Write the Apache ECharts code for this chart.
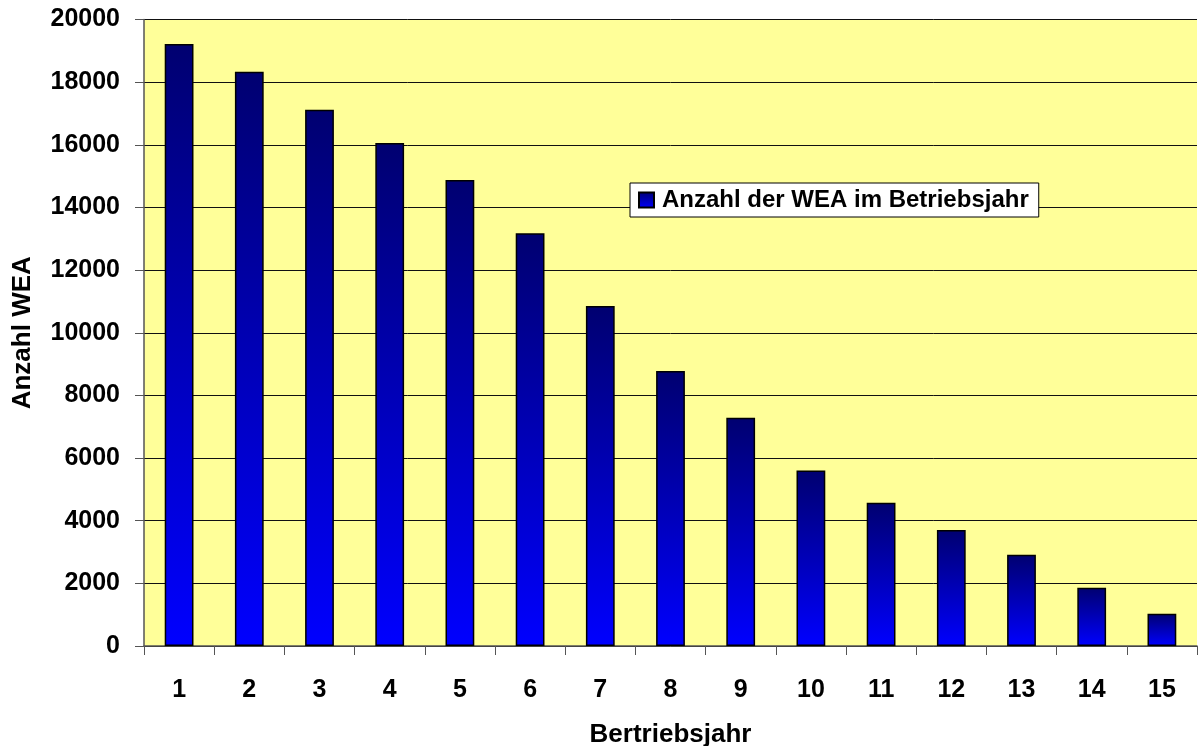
<!DOCTYPE html>
<html>
<head>
<meta charset="utf-8">
<script src="https://cdn.jsdelivr.net/npm/echarts@6/dist/echarts.min.js"></script>
<style>
  html, body { margin: 0; padding: 0; background: #fff; }
  #chart { width: 1204px; height: 746px; }
</style>
</head>
<body>
<div id="chart"></div>
<script>
// Betriebsjahre (x-Achse)
const years = ["1", "2", "3", "4", "5", "6", "7", "8", "9", "10", "11", "12", "13", "14", "15"];
// Anzahl WEA im jeweiligen Betriebsjahr
const counts = [19220, 18330, 17120, 16060, 14880, 13180, 10850, 8780, 7290, 5600, 4570, 3700, 2910, 1860, 1030];

const seriesName = "Anzahl der WEA im Betriebsjahr";
const labelFont = { fontFamily: "Liberation Sans, Arial, sans-serif", fontWeight: "bold", color: "#000" };

const chart = echarts.init(document.getElementById("chart"));

const barGradient = new echarts.graphic.LinearGradient(0, 0, 0, 1, [
  { offset: 0, color: "#000070" },
  { offset: 1, color: "#0000FF" },
]);

chart.setOption({
  animation: false,
  grid: {
    left: 144,
    right: 7,
    top: 19.5,
    bottom: 100,
    outerBoundsMode: "none",
    show: true,
    backgroundColor: "#FFFF99",
    borderWidth: 0,
  },
  legend: {
    data: [seriesName],
    left: 630,
    top: 183,
    backgroundColor: "#fff",
    borderColor: "#000",
    borderWidth: 1,
    borderRadius: 0,
    padding: [5, 10, 5, 8],
    itemWidth: 15,
    itemHeight: 15,
    icon: "rect",
    textStyle: { ...labelFont, fontSize: 24, padding: [0, 0, 0, 3] },
  },
  xAxis: {
    type: "category",
    data: years,
    name: "Bertriebsjahr",
    nameLocation: "middle",
    nameGap: 76,
    nameTextStyle: { ...labelFont, fontSize: 26 },
    axisLine: { lineStyle: { color: "#555", width: 1.5 } },
    axisTick: { show: true, length: 9, lineStyle: { color: "#555" } },
    axisLabel: { ...labelFont, fontSize: 25, margin: 32 },
  },
  yAxis: {
    type: "value",
    min: 0,
    max: 20000,
    interval: 2000,
    name: "Anzahl WEA",
    nameLocation: "middle",
    nameGap: 108,
    nameTextStyle: { ...labelFont, fontSize: 26 },
    axisLine: { show: true, lineStyle: { color: "#555", width: 1.5 } },
    axisTick: { show: true, length: 9, lineStyle: { color: "#555" } },
    axisLabel: { ...labelFont, fontSize: 25, margin: 24, formatter: (v) => String(v) },
    splitLine: { lineStyle: { color: "#111", width: 1 } },
  },
  series: [
    {
      name: seriesName,
      type: "bar",
      data: counts,
      barWidth: "41%",
      itemStyle: {
        color: barGradient,
        borderColor: "#000",
        borderWidth: 1.5,
      },
    },
  ],
});
</script>
</body>
</html>
